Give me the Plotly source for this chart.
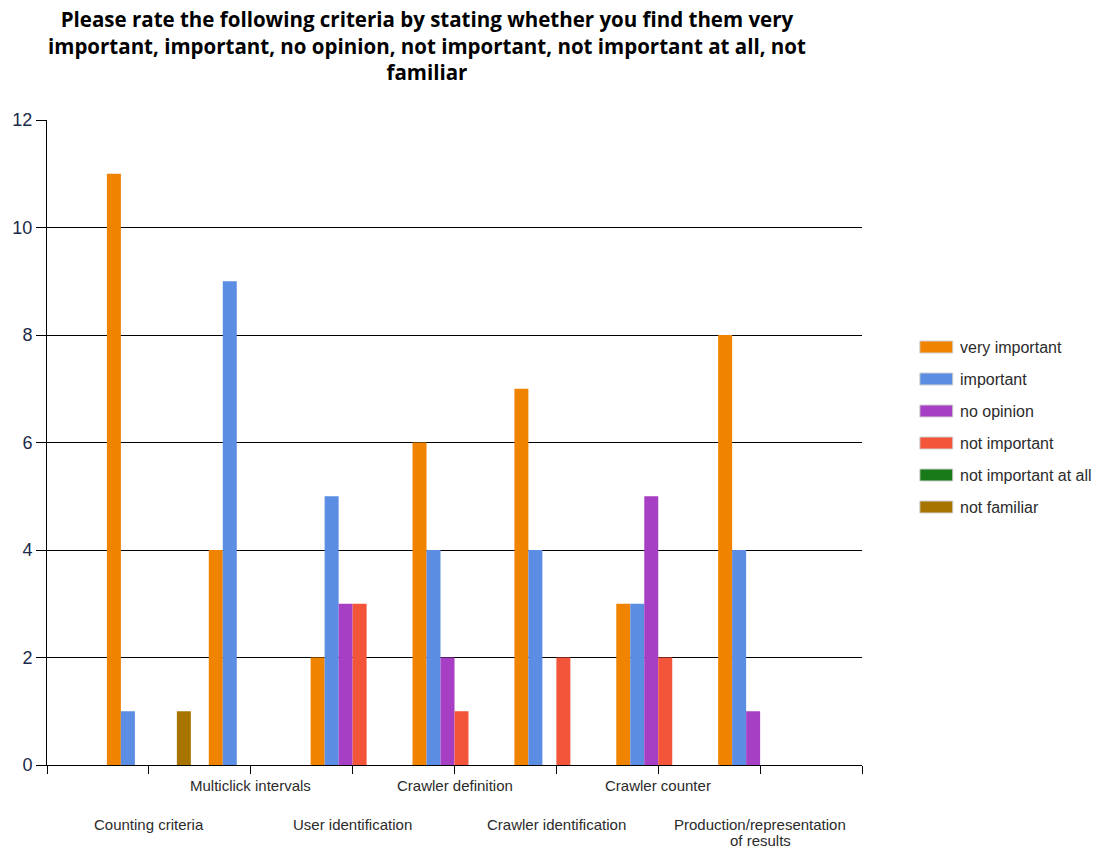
import plotly.graph_objects as go

categories = ["Counting criteria", "Multiclick intervals", "User identification",
              "Crawler definition", "Crawler identification", "Crawler counter",
              "Production/representation<br>of results"]
series_names = ["very important", "important", "no opinion", "not important",
                "not important at all", "not familiar"]
very_important = [11, 4, 2, 6, 7, 3, 8]
important = [1, 9, 5, 4, 4, 3, 4]
no_opinion = [0, 0, 3, 2, 0, 5, 1]
not_important = [0, 0, 3, 1, 2, 2, 0]
not_important_at_all = [0, 0, 0, 0, 0, 0, 0]
not_familiar = [1, 0, 0, 0, 0, 0, 0]
y_ticks = [0, 2, 4, 6, 8, 10, 12]
title_text = ("Please rate the following criteria by stating whether you find them very<br>"
              "important, important, no opinion, not important, not important at all, not<br>"
              "familiar")

series_values = [very_important, important, no_opinion, not_important,
                 not_important_at_all, not_familiar]
colors = ["#F08300", "#5B8DE3", "#A63FC4", "#F2553A", "#187A18", "#A87400"]

xpos = list(range(1, len(categories) + 1))

fig = go.Figure()
for name, vals, col in zip(series_names, series_values, colors):
    fig.add_trace(go.Bar(
        x=xpos, y=vals, name=name,
        marker=dict(color=col, line=dict(width=0)),
        showlegend=False,
    ))

# plot area pixel geometry
L, R, T, B = 45, 862, 120, 765
W, H = 1101, 848
pw, ph = R - L, B - T

def px_x(p):
    return (p - L) / pw

def px_y(p):
    return (B - p) / ph

annotations = []
# title
annotations.append(dict(
    x=px_x(426), xref="paper", y=px_y(46), yref="paper",
    text=title_text, showarrow=False, xanchor="center", yanchor="middle",
    align="center",
    font=dict(family="Open Sans", size=20.5, color="#000000", weight="bold"),
))

# category labels in two alternating rows
for i, (xp, cat) in enumerate(zip(xpos, categories)):
    row_y = 785 if i % 2 == 1 else 824
    for k, part in enumerate(cat.split("<br>")):
        annotations.append(dict(
            x=xp, xref="x", y=px_y(row_y + 16 * k), yref="paper", text=part,
            showarrow=False, xanchor="center", yanchor="middle",
            font=dict(family="Liberation Sans", size=15, color="#2b2b2b"),
        ))

# custom legend
shapes = []
leg_y0 = 347
for j, (name, col) in enumerate(zip(series_names, colors)):
    cy = leg_y0 + 32 * j
    shapes.append(dict(
        type="rect", xref="paper", yref="paper",
        x0=px_x(920), x1=px_x(953), y0=px_y(cy - 6), y1=px_y(cy + 6),
        fillcolor=col, line=dict(color="#d0d0d0", width=1),
    ))
    annotations.append(dict(
        x=px_x(958), xref="paper", y=px_y(cy), yref="paper", text=name,
        showarrow=False, xanchor="left", yanchor="middle",
        font=dict(family="Liberation Sans", size=16, color="#2b2b2b"),
    ))

fig.update_layout(
    width=W, height=H,
    margin=dict(l=L, r=W - R, t=T, b=H - B),
    paper_bgcolor="white", plot_bgcolor="white",
    barmode="group", bargap=0.176, bargroupgap=0,
    xaxis=dict(
        range=[0, len(categories) + 1], tickmode="array",
        tickvals=list(range(0, len(categories) + 2)), ticktext=[""] * (len(categories) + 2),
        ticks="outside", ticklen=8, tickcolor="#000", tickwidth=1,
        showline=True, linecolor="#000", linewidth=1,
        showgrid=False, zeroline=False, fixedrange=True,
    ),
    yaxis=dict(
        range=[0, 12], tickmode="array", tickvals=y_ticks,
        ticks="outside", ticklen=10, tickcolor="#000", tickwidth=1,
        showline=True, linecolor="#000", linewidth=1,
        showgrid=True, gridcolor="#000", gridwidth=1,
        zeroline=False, fixedrange=True,
        tickfont=dict(family="Liberation Sans", size=18, color="#1a2a4a"),
    ),
    annotations=annotations,
    shapes=shapes,
)

fig.write_html("out.html")
